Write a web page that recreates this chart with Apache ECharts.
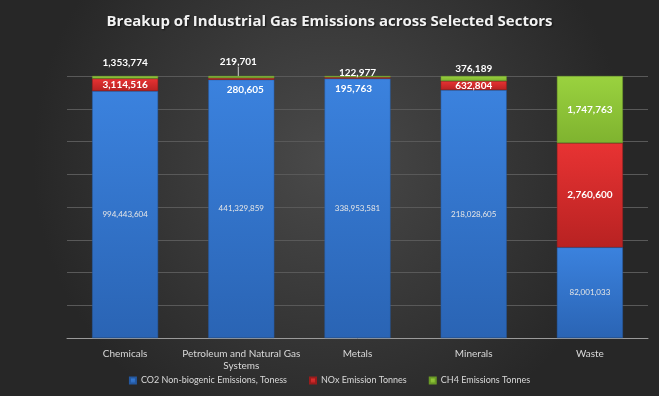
<!DOCTYPE html>
<html>
<head>
<meta charset="utf-8">
<script src="https://cdn.jsdelivr.net/npm/echarts@6/dist/echarts.min.js"></script>
<style>
  html, body { margin: 0; padding: 0; }
  #main { width: 659px; height: 396px; }
</style>
</head>
<body>
<div id="main"></div>
<script>
// sectors on the x axis
var sectors = ['Chemicals', 'Petroleum and Natural Gas Systems', 'Metals', 'Minerals', 'Waste'];

// stacked share of each column (percent)
var co2Share = [94.3, 98.6, 99.0, 94.7, 34.6];
var noxShare = [4.7, 0.6, 0.5, 3.4, 39.8];
var ch4Share = [1.0, 0.8, 0.5, 1.9, 25.6];

// data labels shown on the bars
var co2Values = ['994,443,604', '441,329,859', '338,953,581', '218,028,605', '82,001,033'];
var noxValues = ['3,114,516', '280,605', '195,763', '632,804', '2,760,600'];
var ch4Values = ['1,353,774', '219,701', '122,977', '376,189', '1,747,763'];

var font = 'Lato, "Open Sans", sans-serif';

function grad(top, bottom) {
    return new echarts.graphic.LinearGradient(0, 0, 0, 1, [
        {offset: 0, color: top},
        {offset: 1, color: bottom}
    ]);
}

// label nudges (dx, dy) per bar
var noxMoves = {1: [4, 11], 2: [-4, 11]};
var ch4Moves = {0: [0, -3], 1: [-3, -4], 2: [0, 7], 3: [0, 3]};
var ch4Leader = {1: true};

function mover(moves) {
    return function (p) {
        var m = moves[p.dataIndex];
        if (!m) return {};
        return {dx: m[0], dy: m[1]};
    };
}

var option = {
    backgroundColor: new echarts.graphic.RadialGradient(0.5, 0.4, 0.75, [
        {offset: 0, color: '#4a4a4a'},
        {offset: 1, color: '#272727'}
    ]),
    animation: false,
    title: {
        text: 'Breakup of Industrial Gas Emissions across Selected Sectors',
        left: 'center',
        top: 9,
        textStyle: {
            color: '#f2f2f2',
            fontSize: 15,
            fontWeight: 'bold',
            fontFamily: '"Open Sans", Lato, sans-serif',
            textShadowColor: 'rgba(0,0,0,0.6)',
            textShadowBlur: 2,
            textShadowOffsetX: 1,
            textShadowOffsetY: 1
        }
    },
    legend: {
        bottom: 6,
        left: 'center',
        itemWidth: 6,
        itemHeight: 6,
        itemGap: 22,
        icon: 'rect',
        textStyle: {color: '#d9d9d9', fontSize: 9, fontFamily: font},
        data: ['CO2 Non-biogenic Emissions, Toness', 'NOx Emission Tonnes', 'CH4 Emissions Tonnes']
    },
    grid: {left: 67, right: 11, top: 76, bottom: 58},
    xAxis: {
        type: 'category',
        data: sectors,
        axisLine: {lineStyle: {color: '#9a9a9a'}},
        axisTick: {show: false},
        axisLabel: {
            interval: 0,
            color: '#d9d9d9',
            fontSize: 10,
            fontFamily: font,
            margin: 10,
            lineHeight: 12,
            formatter: function (v) { return v.replace('Gas ', 'Gas\n'); }
        }
    },
    yAxis: {
        type: 'value',
        min: 0,
        max: 100,
        interval: 12.5,
        axisLabel: {show: false},
        axisLine: {show: false},
        axisTick: {show: false},
        splitLine: {lineStyle: {color: '#595959'}}
    },
    series: [
        {
            name: 'CO2 Non-biogenic Emissions, Toness',
            type: 'bar',
            stack: 'all',
            barWidth: 66,
            itemStyle: {color: grad('#3b82de', '#2a64b4'), borderColor: '#2458a0', borderWidth: 0.5},
            label: {
                show: true,
                position: 'inside',
                color: '#e6e6e6',
                fontSize: 8,
                fontFamily: font,
                formatter: function (p) { return co2Values[p.dataIndex]; }
            },
            data: co2Share
        },
        {
            name: 'NOx Emission Tonnes',
            type: 'bar',
            stack: 'all',
            itemStyle: {color: grad('#e83333', '#b82222'), borderColor: '#9a1c1c', borderWidth: 0.5},
            label: {
                show: true,
                position: 'inside',
                color: '#ffffff',
                fontSize: 10,
                fontWeight: 'bold',
                fontFamily: font,
                formatter: function (p) { return noxValues[p.dataIndex]; }
            },
            labelLayout: mover(noxMoves),
            data: noxShare
        },
        {
            name: 'CH4 Emissions Tonnes',
            type: 'bar',
            stack: 'all',
            itemStyle: {color: grad('#9ad23f', '#7fb32f'), borderColor: '#6a9a26', borderWidth: 0.5},
            label: {
                show: true,
                color: '#ffffff',
                fontSize: 10,
                fontWeight: 'bold',
                fontFamily: font,
                formatter: function (p) { return ch4Values[p.dataIndex]; }
            },
            labelLayout: mover(ch4Moves),
            data: ch4Share.map(function (v, i) {
                return {
                    value: v,
                    label: {position: i === 4 ? 'inside' : 'top'},
                    labelLine: {show: !!ch4Leader[i], lineStyle: {color: '#d0d0d0', width: 1}}
                };
            })
        }
    ]
};

var myChart = echarts.init(document.getElementById('main'));
myChart.setOption(option);
</script>
</body>
</html>
